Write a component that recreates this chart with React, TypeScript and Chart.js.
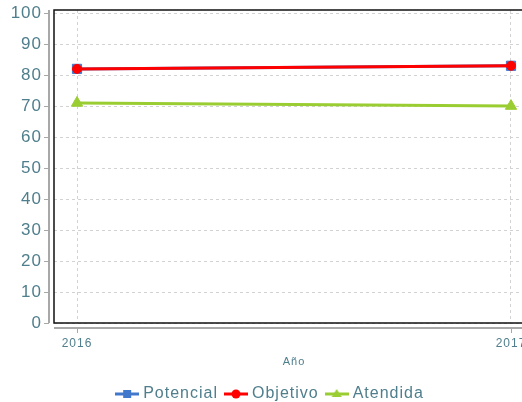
import React, { useEffect, useRef } from 'react';
import { Chart, registerables } from 'chart.js';

Chart.register(...registerables);

const years = [2016, 2017];
const potencial = [82, 83];
const objetivo = [82, 83];
const atendida = [71, 70];
const yTickValues = [0, 10, 20, 30, 40, 50, 60, 70, 80, 90, 100];
const seriesNames = ['Potencial', 'Objetivo', 'Atendida'];
const xAxisTitle = 'Año';

const TEXT = '#4f7e8c';
const BLUE = '#4178cc';
const RED = '#ff0000';
const GREEN = '#9acd32';
const FAMILY = '"Liberation Sans", Arial, sans-serif';

function legendImage(color: string, shape: string): HTMLCanvasElement {
  const c = document.createElement('canvas');
  c.width = 24;
  c.height = 14;
  const g = c.getContext('2d')!;
  g.strokeStyle = color;
  g.fillStyle = color;
  g.lineWidth = 3;
  g.beginPath();
  g.moveTo(0, 7);
  g.lineTo(24, 7);
  g.stroke();
  if (shape === 'rect') {
    g.fillRect(8, 3, 8, 8);
  } else if (shape === 'circle') {
    g.beginPath();
    g.arc(12, 7, 4.5, 0, Math.PI * 2);
    g.fill();
  } else {
    g.beginPath();
    g.moveTo(12, 2);
    g.lineTo(17, 10);
    g.lineTo(7, 10);
    g.closePath();
    g.fill();
  }
  return c;
}

const spacingPlugin = {
  id: 'letterSpacing',
  beforeLayout(chart: any) {
    chart.ctx.letterSpacing = '1px';
  },
  beforeDraw(chart: any) {
    chart.ctx.letterSpacing = '1px';
  },
};

const framePlugin = {
  id: 'frame',
  beforeDatasetsDraw(chart: any) {
    const { ctx, chartArea: a, scales } = chart;
    ctx.save();
    ctx.strokeStyle = '#111111';
    ctx.lineWidth = 1.5;
    ctx.beginPath();
    ctx.moveTo(a.right, a.bottom);
    ctx.lineTo(a.right, a.top);
    ctx.lineTo(a.left, a.top);
    ctx.lineTo(a.left, a.bottom);
    ctx.lineTo(a.right, a.bottom);
    ctx.stroke();

    const ax = a.left - 5;
    const ay = a.bottom + 5;
    ctx.strokeStyle = '#a8a8a8';
    ctx.lineWidth = 2;
    ctx.beginPath();
    ctx.moveTo(ax, a.top);
    ctx.lineTo(ax, a.bottom);
    ctx.moveTo(a.left, ay);
    ctx.lineTo(a.right, ay);
    ctx.stroke();

    ctx.lineWidth = 1;
    ctx.beginPath();
    scales.y.ticks.forEach((t: any) => {
      const py = Math.round(scales.y.getPixelForValue(t.value)) + 0.5;
      ctx.moveTo(ax - 5, py);
      ctx.lineTo(ax, py);
    });
    scales.x.ticks.forEach((t: any) => {
      const px = Math.round(scales.x.getPixelForValue(t.value)) + 0.5;
      ctx.moveTo(px, ay);
      ctx.lineTo(px, ay + 5);
    });
    ctx.stroke();
    ctx.restore();
  },
};

export default function App() {
  const ref = useRef<HTMLCanvasElement>(null);

  useEffect(() => {
    if (!ref.current) return;
    Chart.defaults.font.family = FAMILY;
    const images = [
      legendImage(BLUE, 'rect'),
      legendImage(RED, 'circle'),
      legendImage(GREEN, 'triangle'),
    ];
    const toPoints = (vals: number[]) => years.map((x, i) => ({ x, y: vals[i] }));
    const chart = new Chart(ref.current, {
      type: 'line',
      data: {
        datasets: [
          {
            label: seriesNames[0],
            data: toPoints(potencial),
            borderColor: BLUE,
            backgroundColor: BLUE,
            borderWidth: 3,
            pointStyle: 'rect',
            pointRadius: 6.5,
            pointBorderWidth: 1,
            order: 1,
          },
          {
            label: seriesNames[1],
            data: toPoints(objetivo),
            borderColor: RED,
            backgroundColor: RED,
            borderWidth: 3,
            pointStyle: 'circle',
            pointRadius: 4.5,
            pointBorderWidth: 1,
            order: 0,
          },
          {
            label: seriesNames[2],
            data: toPoints(atendida),
            borderColor: GREEN,
            backgroundColor: GREEN,
            borderWidth: 3,
            pointStyle: 'triangle',
            pointRadius: 6.5,
            pointBorderWidth: 1,
            order: 2,
          },
        ],
      },
      options: {
        responsive: false,
        animation: false,
        layout: { padding: { top: 10, left: 0, right: 3, bottom: 0 } },
        plugins: {
          tooltip: { enabled: false },
          legend: {
            position: 'bottom',
            labels: {
              usePointStyle: true,
              pointStyleWidth: 16,
              padding: 10,
              color: TEXT,
              font: { size: 16, family: FAMILY },
              sort: (a: any, b: any) => a.datasetIndex - b.datasetIndex,
              generateLabels: (c: any) => {
                const items = (Chart.defaults.plugins.legend.labels as any).generateLabels(c);
                return items.map((it: any) => ({ ...it, pointStyle: images[it.datasetIndex] }));
              },
            },
          },
        },
        scales: {
          x: {
            type: 'linear',
            min: years[0] - 0.053,
            max: years[years.length - 1] + 0.053,
            afterBuildTicks: (s: any) => {
              s.ticks = years.map((v) => ({ value: v }));
            },
            afterFit: (s: any) => {
              s.height = 53;
              s.paddingLeft = 0;
              s.paddingRight = 12;
            },
            ticks: {
              callback: (v: any) => String(v),
              color: TEXT,
              font: { size: 12, family: FAMILY },
              padding: 13,
              maxRotation: 0,
            },
            grid: { color: '#d2d2d2', drawTicks: false },
            border: { display: false, dash: [3, 3] },
            title: {
              display: true,
              text: xAxisTitle,
              color: TEXT,
              font: { size: 11, family: FAMILY },
              padding: { top: 0, bottom: 7 },
            },
          },
          y: {
            min: 0,
            max: 101,
            afterBuildTicks: (s: any) => {
              s.ticks = yTickValues.map((v) => ({ value: v }));
            },
            afterFit: (s: any) => {
              s.width = 54;
              s.paddingTop = 0;
              s.paddingBottom = 0;
            },
            ticks: {
              color: TEXT,
              font: { size: 17, family: FAMILY },
              padding: 12,
            },
            grid: { color: '#d2d2d2', drawTicks: false },
            border: { display: false, dash: [3, 3] },
          },
        },
      },
      plugins: [spacingPlugin, framePlugin],
    } as any);
    return () => chart.destroy();
  }, []);

  return (
    <div style={{ position: 'fixed', left: 0, top: 0, width: 522, height: 402, overflow: 'hidden', background: '#fff' }}>
      <canvas ref={ref} width={546} height={412} style={{ position: 'absolute', left: 0, top: 0, width: 546, height: 412 }} />
    </div>
  );
}
